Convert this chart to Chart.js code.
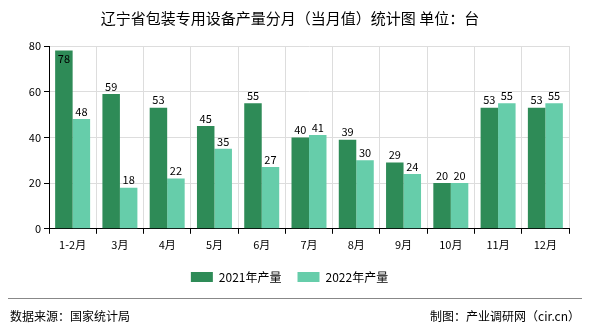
<!DOCTYPE html>
<html>
<head>
<meta charset="utf-8">
<script src="https://cdn.jsdelivr.net/npm/chart.js@4/dist/chart.umd.min.js"></script>
<style>
  html, body { margin: 0; padding: 0; background: #fff; }
  #wrap { width: 590px; height: 330px; }
</style>
</head>
<body>
<div id="wrap"><canvas id="myChart" width="590" height="330"></canvas></div>
<script>
const months = ['1-2月', '3月', '4月', '5月', '6月', '7月', '8月', '9月', '10月', '11月', '12月'];
const out2021 = [78, 59, 53, 45, 55, 40, 39, 29, 20, 53, 53];
const out2022 = [48, 18, 22, 35, 27, 41, 30, 24, 20, 55, 55];
const yTicks = [0, 20, 40, 60, 80];

const font = 'SimSun, "Noto Sans CJK SC", sans-serif';

// title, footer and bar value labels
const extras = {
  id: 'extras',
  afterDraw(chart) {
    const ctx = chart.ctx;
    ctx.save();
    ctx.fillStyle = '#000';
    ctx.textAlign = 'center';
    ctx.textBaseline = 'middle';
    ctx.font = '15px ' + font;
    ctx.fillText('辽宁省包装专用设备产量分月（当月值）统计图 单位：台', 290, 18);

    ctx.strokeStyle = '#888';
    ctx.lineWidth = 1;
    ctx.beginPath();
    ctx.moveTo(8, 298.5);
    ctx.lineTo(582, 298.5);
    ctx.stroke();

    ctx.font = '12px ' + font;
    ctx.textAlign = 'left';
    ctx.fillText('数据来源：国家统计局', 10, 316);
    ctx.textAlign = 'right';
    ctx.fillText('制图：产业调研网（cir.cn）', 580, 316);

    ctx.font = '11px ' + font;
    ctx.textAlign = 'center';
    ctx.textBaseline = 'bottom';
    chart.data.datasets.forEach((ds, i) => {
      chart.getDatasetMeta(i).data.forEach((bar, j) => {
        let y = bar.y - 2;
        if (y - 12 < chart.chartArea.top) y = bar.y + 14;
        ctx.fillText(ds.data[j], bar.x, y);
      });
    });
    ctx.restore();
  }
};

const config = {
  type: 'bar',
  data: {
    labels: months,
    datasets: [{
      label: '2021年产量',
      backgroundColor: '#2E8B57',
      data: out2021,
    }, {
      label: '2022年产量',
      backgroundColor: '#66CDAA',
      data: out2022,
    }]
  },
  options: {
    responsive: false,
    animation: false,
    layout: { padding: { top: 46, right: 21, bottom: 37, left: 10 } },
    datasets: { bar: { categoryPercentage: 0.74, barPercentage: 1 } },
    scales: {
      x: {
        grid: { color: '#ddd', tickColor: '#000', tickLength: 5, offset: true },
        border: { color: '#000' },
        ticks: { color: '#000', padding: 4, font: { family: font, size: 11 } }
      },
      y: {
        min: 0, max: 80,
        afterBuildTicks: (axis) => { axis.ticks = yTicks.map(v => ({ value: v })); },
        afterFit: (axis) => { axis.width = 39; },
        grid: { color: '#ddd', tickColor: '#000', tickLength: 5 },
        border: { color: '#000' },
        ticks: { color: '#000', font: { family: font, size: 11 } }
      }
    },
    plugins: {
      legend: {
        position: 'bottom',
        labels: { boxWidth: 22, boxHeight: 10, padding: 16, color: '#000', font: { family: font, size: 12 } }
      },
      tooltip: { enabled: false }
    }
  },
  plugins: [extras]
};

const myChartConfig = new Chart('myChart', config);
</script>
</body>
</html>
